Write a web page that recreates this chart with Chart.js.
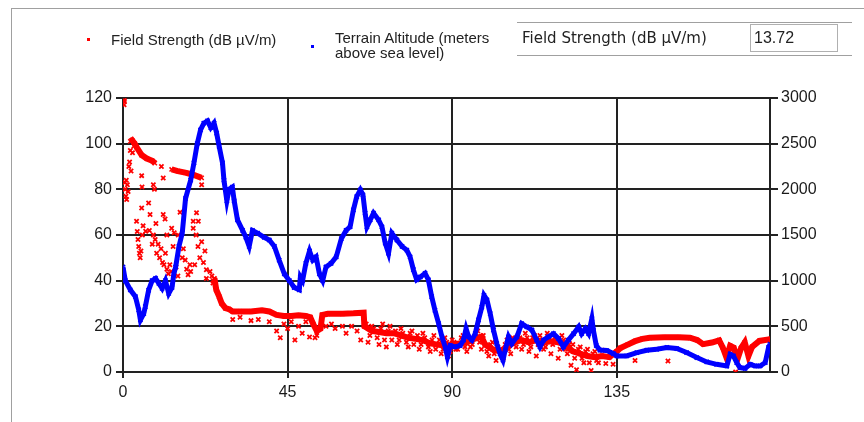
<!DOCTYPE html>
<html>
<head>
<meta charset="utf-8">
<script src="https://cdn.jsdelivr.net/npm/chart.js@4.4.1/dist/chart.umd.min.js"></script>
<style>
  body { margin: 0; background: #fff; }
  #wrap { position: relative; width: 864px; height: 422px; overflow: hidden; }
  #wrap canvas { position: absolute; left: 0; top: 0; }
  .frame { position: absolute; left: 11px; top: 8px; width: 900px; height: 500px;
           border-left: 1px solid #a0a0a0; border-top: 1px solid #a0a0a0; }
  .leg { position: absolute; font: 15px "Liberation Sans", Arial, sans-serif; color: #222; line-height: 15px; }
  .dot { position: absolute; width: 3px; height: 3px; }
  .group { position: absolute; left: 517px; top: 22px; width: 335px; height: 32px;
           border-top: 1px solid #a0a0a0; border-bottom: 1px solid #a0a0a0; }
  .glabel { position: absolute; left: 522px; top: 29px; font: 15px "DejaVu Sans", Verdana, sans-serif; color: #222; }
  .gbox { position: absolute; left: 750px; top: 24px; border: 1px solid #b0b0b0;
          font: 16px "Liberation Sans", Arial, sans-serif; color: #222; line-height: 26px; padding-left: 3px; box-sizing: border-box; width: 88px; height: 28px; }
</style>
</head>
<body>
<div id="wrap">
  <canvas id="myChart" width="864" height="422"></canvas>
  <div class="frame"></div>
  <div class="dot" style="left:87px;top:38px;background:#ff0000"></div>
  <div class="leg" style="left:111px;top:32px">Field Strength (dB µV/m)</div>
  <div class="dot" style="left:311px;top:45px;background:#0000ff"></div>
  <div class="leg" style="left:335px;top:30px">Terrain Altitude (meters<br>above sea level)</div>
  <div class="group"></div>
  <div class="glabel">Field Strength (dB µV/m)</div>
  <div class="gbox">13.72</div>
</div>
<script>
// field strength, main band (null = break in the band)
const fsX = [2.0, 2.5, 3.2, 3.7, 5.1, 6.5, 8.0, 8.7, 9.0, 13.3, 15, 17, 19, 21.5, 22, 24.6, 25.1, 25.5, 26.3, 27, 28, 29, 30, 32, 35, 38, 40, 42, 44, 46, 48, 50, 51.2, 52, 53, 54, 54.5, 56, 60, 63, 65.8, 66, 68, 70, 72, 74, 76, 78, 80, 82, 84, 86, 88, 90, 92, 94, 96, 98, 99, 101, 103, 105, 107, 109, 111, 113, 115, 117, 119, 121, 123, 125, 127, 129, 131, 133, 135, 136, 138, 140, 142, 144, 148, 152, 155, 157, 158.6, 161, 163, 164, 165, 166, 167, 168, 169, 170, 171, 172, 174, 177];
const fsY = [101, 101.5, 100, 98.5, 95, 93.5, 92.5, 91.5, null, 88.7, 88, 87.3, 86.5, 85, null, 40, 40, 36, 33, 30, 28, 27.5, 26.5, 26.5, 26.5, 27, 26.5, 25, 24.5, 24.5, 24.8, 24.5, 24, 21, 18, 19, 25, 25.5, 25.5, 25.7, 26, 20, 18, 17.5, 17, 17, 16, 15, 14.5, 14, 12.5, 12, 11.5, 12, 12.5, 13, 14.5, 15.5, 12, 10, 9, 11, 13, 14, 13, 14, 13, 13.5, 13, 12, 9, 8, 7, 6.5, 7, 6.5, 9, 10.5, 12, 13.5, 14.5, 15, 15.2, 15.2, 15, 14, 12.2, 12.9, 13.9, 10.7, 6.3, 11.5, 10.7, 5.6, 10.5, 13, 7, 11, 13.6, 14.4];

// field strength, scattered readings around the band
const fsNoiseX = [0.3, 0.3, 0.4, 0.5, 0.6, 0.8, 1.0, 1.2, 1.4, 0.9, 1.6, 1.8, 2.2, 2.0, 2.6, 3.0, 3.7, 3.9, 4.1, 4.3, 4.5, 4.7, 4.9, 5.1, 5.3, 5.5, 5.1, 5.2, 6.2, 7.0, 7.4, 8.3, 8.6, 7.2, 8.3, 8.0, 8.8, 9.2, 9.6, 10, 10.4, 10.8, 11.2, 11.6, 12, 12.4, 12.8, 13.2, 11, 10.5, 11, 11.5, 13.3, 14, 15.1, 15.6, 16.5, 17, 17.4, 17.8, 18.3, 16.2, 19.2, 19.2, 20.1, 20.6, 20, 20.5, 21, 21.5, 22, 22.4, 22.8, 22.8, 21.5, 23.8, 24.3, 25, 24.6, 18.5, 19.6, 14.5, 15, 13.7, 12, 9, 30, 32, 35, 37, 40, 42, 43, 44, 45, 46, 47, 48, 49, 50, 51, 52.5, 53, 55.5, 57, 58, 60, 61, 62.5, 64, 65, 66, 67, 68, 70, 71, 72, 73, 75, 76, 78, 79, 81, 82, 84, 85, 87, 88, 89, 90, 91, 93, 94, 95, 97, 98, 100, 101, 102, 104, 105, 106, 108, 109, 110, 111, 112, 113, 114, 115, 116, 117, 118, 119, 120, 121, 122, 122.5, 123, 124, 125, 126, 127, 128, 129, 130, 131, 132, 133, 134, 140, 149, 167.5,
  66.5, 67.5, 68.5, 69.5, 70.5, 71.5, 72.5, 73.5, 74.5, 75.5, 76.5, 77.5, 78.5, 79.5, 80.5, 81.5, 82.5, 83.5, 84.5, 85.5, 86.5, 87.5, 88.5, 89.5, 90.5, 91.5, 92.5, 93.5, 94.5, 95.5, 96.5, 97.5, 98.5, 99.5, 100.5, 101.5, 102.5, 103.5, 104.5, 105.5, 106.5, 107.5, 108.5, 109.5, 110.5, 111.5, 112.5, 113.5, 114.5, 115.5, 116.5, 117.5, 118.5, 119.5, 120.5, 121.5, 122, 123.5, 124.5, 125.5, 126.5, 127.5, 128.5, 129.5];
const fsNoiseY = [119, 117, 118.5, 83, 80, 77, 75.5, 82, 79, 84, 90, 92, 88, 97, 96, 99, 66, 61.5, 58, 55, 52, 50, 53, 71.8, 60, 64, 86, 81, 61.6, 74, 69, 82, 80, 62, 60, 56, 58, 52, 56, 50, 54, 48, 47, 52, 45, 43, 47, 44, 69, 90, 85, 67, 63, 61, 60, 70, 54, 49, 45, 42.6, 47, 50, 66, 63, 69.7, 66, 60, 55, 50, 57, 48, 53, 44.8, 41, 82, 44, 42, 41, 39, 44, 47, 46, 42, 55, 60, 65, 23, 24, 22.5, 23, 22, 18, 15, 21, 19, 22, 14, 20, 17, 22, 15.3, 15, 16, 20, 21, 19, 20, 17, 20, 18, 14, 22, 13, 20, 12, 21, 11, 20, 12, 19, 11, 18, 10, 17, 9, 16, 8, 15, 7, 14, 10, 16, 9, 11, 18, 10, 7, 13, 5, 6, 14, 8, 16, 10, 17, 9, 15, 7, 16, 10, 17, 8, 15, 6, 16, 10, 14, 3, 12, 1, 11, 4, 10, 0.7, 9, 4, 9.5, 3.7, 8, 3.4, 5, 4.8, 0,
  21, 16, 19, 15, 19, 14, 18, 14, 18, 14, 17, 13, 17, 12, 16, 12, 15, 11, 14, 10, 14, 10, 13, 9, 13, 10, 15, 11, 15, 12, 17, 13, 16, 9, 12, 8, 11, 7, 12, 10, 15, 11, 15, 12, 15, 11, 16, 12, 14, 11, 15, 12, 14, 10, 14, 8, 12, 6, 10, 6, 9, 4, 8, 5];

// terrain altitude (m)
const altX = [0, 0.64, 2.0, 3.4, 4.3, 4.76, 5.67, 6.1, 7.0, 7.96, 8.9, 9.8, 10.7, 11.6, 12.5, 13.4, 13.9, 14.4, 15.3, 16.2, 17.1, 18.5, 19.4, 20.3, 21.2, 22.1, 23.1, 24.0, 24.9, 25.6, 26.3, 27.2, 27.6, 28.4, 29.0, 29.9, 30.4, 31.3, 32.7, 33.6, 34.5, 35.4, 36.8, 38.6, 40.0, 41.4, 42.7, 44.1, 45.5, 46.8, 48.2, 48.5, 49.1, 50.0, 51.0, 51.9, 52.8, 53.7, 54.6, 55.5, 56.9, 58.3, 59.7, 61.0, 62.1, 63.0, 63.9, 64.9, 65.6, 66.2, 66.7, 67.6, 68.5, 69.9, 70.8, 71.7, 72.6, 73.5, 74.9, 76.3, 77.6, 78.5, 79.4, 80.3, 81.3, 82.6, 83.5, 84.4, 85.3, 86.3, 87.2, 88.1, 88.7, 89.5, 90.8, 92.2, 93.1, 93.8, 94.5, 95.4, 96.3, 97.2, 98.1, 98.7, 99.5, 100.4, 101.3, 102.2, 103.1, 103.9, 104.5, 105.4, 106.3, 107.7, 109.0, 110.4, 111.8, 113.1, 114.0, 115.0, 116.3, 117.7, 119.1, 120.4, 121.8, 123.2, 124.6, 125.4, 126.4, 127.3, 128.2, 128.6, 129.4, 130.4, 132.3, 134.1, 135.0, 137.7, 140.5, 143.2, 145.9, 148.7, 151.4, 154.1, 156.9, 159.6, 162.3, 165.1, 166.0, 166.9, 167.8, 168.7, 170.1, 171.5, 172.8, 174.2, 175.6, 176.5, 176.9];
const altY = [1150, 1000, 900, 825, 680, 570, 640, 715, 895, 1000, 1025, 970, 915, 1000, 860, 925, 1075, 1150, 1375, 1520, 1900, 2100, 2290, 2500, 2650, 2725, 2750, 2675, 2725, 2615, 2470, 2290, 2100, 1875, 2000, 2025, 1875, 1665, 1550, 1475, 1375, 1550, 1520, 1475, 1445, 1375, 1225, 1075, 1000, 925, 900, 1040, 1000, 1190, 1325, 1225, 1260, 1075, 1000, 1150, 1190, 1260, 1460, 1550, 1590, 1775, 1920, 1995, 1940, 1740, 1590, 1665, 1740, 1665, 1590, 1410, 1300, 1520, 1445, 1375, 1335, 1260, 1120, 1010, 1040, 1080, 1010, 825, 675, 530, 385, 275, 165, 290, 275, 290, 350, 475, 385, 350, 420, 570, 710, 840, 790, 640, 460, 310, 200, 130, 240, 385, 310, 385, 530, 495, 460, 350, 275, 350, 385, 420, 365, 275, 350, 420, 495, 420, 475, 420, 585, 460, 290, 240, 235, 200, 176, 176, 213, 238, 249, 268, 257, 213, 158, 110, 84, 66, 194, 176, 103, 48, 40, 84, 66, 66, 103, 268, 304];

const xTicks = [0, 45, 90, 135];

const pts = (xs, ys) => xs.map((x, i) => ({x: x, y: ys[i]}));

const ctx = document.getElementById('myChart').getContext('2d');
const tickFont = {family: '"Liberation Sans", Arial, sans-serif', size: 16};
const myChart = new Chart(ctx, {
    type: 'scatter',
    data: {
        datasets: [
          {
            label: 'Terrain Altitude (meters above sea level)',
            data: pts(altX, altY),
            yAxisID: 'y2',
            showLine: true,
            borderColor: '#0000ff',
            borderWidth: 5,
            pointStyle: 'crossRot',
            pointRadius: 3,
            pointBorderWidth: 1.5,
            pointBorderColor: '#0000ff'
          },
          {
            label: 'Field Strength (dB µV/m)',
            data: pts(fsNoiseX, fsNoiseY),
            yAxisID: 'y',
            pointStyle: 'crossRot',
            pointRadius: 3,
            pointBorderWidth: 1.8,
            pointBorderColor: '#ff0000'
          },
          {
            label: 'Field Strength (dB µV/m)',
            data: pts(fsX, fsY),
            yAxisID: 'y',
            showLine: true,
            spanGaps: false,
            borderColor: '#ff0000',
            borderWidth: 6,
            pointStyle: 'crossRot',
            pointRadius: 3,
            pointBorderWidth: 1.5,
            pointBorderColor: '#ff0000'
          }
        ]
    },
    options: {
        responsive: false,
        animation: false,
        events: [],
        layout: {padding: {top: 98, left: 0, right: 0, bottom: 0}},
        plugins: {
          legend: {display: false},
          tooltip: {enabled: false}
        },
        scales: {
          x: {
            type: 'linear',
            min: 0,
            max: 176.9,
            afterBuildTicks: (s) => { s.ticks = xTicks.map(v => ({value: v})); },
            afterFit: (s) => { s.height = 50; },
            grid: {color: '#222', lineWidth: 2, tickLength: 6},
            border: {color: '#222', width: 2},
            ticks: {color: '#1a1a1a', font: tickFont, padding: 5, maxRotation: 0}
          },
          y: {
            position: 'left',
            min: 0,
            max: 120,
            ticks: {stepSize: 20, color: '#1a1a1a', font: tickFont, padding: 4},
            afterFit: (s) => { s.width = 123; },
            grid: {color: '#222', lineWidth: 2, tickLength: 7},
            border: {color: '#222', width: 2}
          },
          y2: {
            position: 'right',
            min: 0,
            max: 3000,
            ticks: {stepSize: 500, color: '#1a1a1a', font: tickFont, padding: 3, callback: (v) => String(v)},
            afterFit: (s) => { s.width = 94; },
            grid: {drawOnChartArea: false, color: '#222', lineWidth: 2, tickLength: 8},
            border: {color: '#222', width: 2}
          }
        }
    },
});
</script>
</body>
</html>
